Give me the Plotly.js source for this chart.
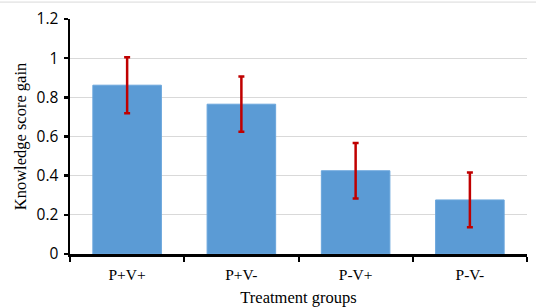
<!DOCTYPE html>
<html>
<head>
<meta charset="utf-8">
<script src="https://cdn.plot.ly/plotly-3.0.1.min.js"></script>
<style>html,body{margin:0;padding:0;background:#fff;}#chart{width:536px;height:307px;}</style>
</head>
<body>
<div id="chart"></div>
<script>
const categories = ["P+V+", "P+V-", "P-V+", "P-V-"];
const scoreGain = [0.862, 0.765, 0.425, 0.276];
const errorHalf = [0.143, 0.141, 0.142, 0.140];
const yTickVals = [0, 0.2, 0.4, 0.6, 0.8, 1, 1.2];
const yTickText = ["0", "0.2", "0.4", "0.6", "0.8", "1", "1.2"];

const trace = {
  type: 'bar',
  x: categories,
  y: scoreGain,
  width: 0.6,
  marker: {color: '#5b9bd5', line: {color: '#6aa6dc', width: 1}},
  error_y: {type: 'data', array: errorHalf, visible: true, color: '#c00000', thickness: 2.5, width: 3}
};

const layout = {
  width: 536, height: 307,
  margin: {l: 70, r: 9, t: 19, b: 53},
  paper_bgcolor: '#fff', plot_bgcolor: '#fff',
  showlegend: false,
  bargap: 0.4,
  xaxis: {
    range: [-0.5, 3.5],
    showline: true, linecolor: '#000', linewidth: 2.5,
    ticks: 'outside', tickson: 'boundaries', ticklen: 5, tickwidth: 2, tickcolor: '#000',
    ticklabelstandoff: 5,
    tickfont: {family: 'Liberation Serif, Times New Roman, serif', size: 15.5, color: '#000'},
    title: {text: 'Treatment groups', font: {family: 'Liberation Serif, Times New Roman, serif', size: 16.5, color: '#000'}, standoff: 12},
    showgrid: false, zeroline: false, fixedrange: true
  },
  yaxis: {
    range: [0, 1.2],
    tickvals: yTickVals, ticktext: yTickText,
    showline: true, linecolor: '#000', linewidth: 2.5,
    ticks: 'outside', ticklen: 4, tickwidth: 2.5, tickcolor: '#000',
    ticklabelstandoff: 2,
    tickfont: {family: 'Open Sans, Liberation Sans, sans-serif', size: 15.5, color: '#000'},
    showgrid: true, gridcolor: '#d9d9d9', gridwidth: 1,
    zeroline: false,
    title: {text: 'Knowledge score gain', font: {family: 'Liberation Serif, Times New Roman, serif', size: 16.5, color: '#000'}, standoff: 6},
    fixedrange: true
  },
  shapes: [
    {type: 'line', xref: 'paper', yref: 'paper', x0: -0.16, x1: 1.02, y0: 1.072, y1: 1.072, line: {color: '#d9d9d9', width: 1}}
  ]
};

Plotly.newPlot('chart', [trace], layout, {displayModeBar: false, staticPlot: true});
</script>
</body>
</html>
